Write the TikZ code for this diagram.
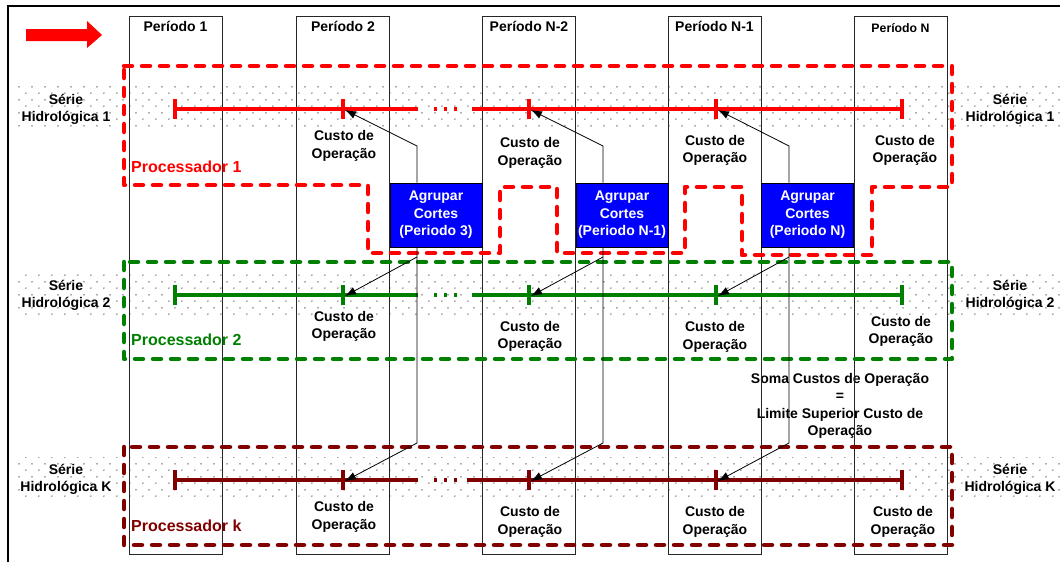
\documentclass[tikz,border=0pt]{standalone}
\usepackage{fontspec}
\setmainfont{Liberation Sans}
\usetikzlibrary{arrows.meta,patterns.meta}
\definecolor{pred}{RGB}{255,0,0}
\definecolor{pgreen}{RGB}{0,128,0}
\definecolor{pdark}{RGB}{128,0,0}
\definecolor{pblue}{RGB}{0,0,255}
\pgfdeclarepattern{name=sdots,type=uncolored,
  bottom left={\pgfpoint{0pt}{0pt}},top right={\pgfpoint{12.5pt}{13pt}},
  tile size={\pgfpoint{12.5pt}{13pt}},
  code={\pgfpathcircle{\pgfpoint{1pt}{1pt}}{0.75pt}\pgfpathcircle{\pgfpoint{7.25pt}{7.5pt}}{0.75pt}\pgfusepath{fill}}}
\begin{document}
\begin{tikzpicture}[x=1pt,y=-1pt,
  txt/.style={font=\bfseries\fontsize{14}{17.3}\selectfont, align=center, inner sep=0pt},
  ptxt/.style={font=\bfseries\fontsize{16}{19}\selectfont, anchor=west, inner sep=0pt},
  colbox/.style={draw=black!85, line width=0.8pt, minimum width=93pt, minimum height=538pt, inner sep=0pt},
  ser/.style={line width=3.2pt},
  proc/.style={line width=4.5pt, dash pattern=on 8pt off 10pt, line cap=round, line join=round},
  agbox/.style={draw=black, line width=0.8pt, fill=pblue, text=white, font=\bfseries\fontsize{14}{17.5}\selectfont, align=center, minimum width=92pt, minimum height=64pt, inner sep=0pt},
  arr/.style={draw=black, line width=0.8pt, -{Latex[length=11pt,width=8pt]}},
  band/.style={pattern=sdots, pattern color=black!75}
]
\useasboundingbox (0,0) rectangle (1060,562);
% outer frame
\draw[line width=2pt] (8,562) -- (8,6) -- (1060,6);
% red block arrow
\fill[pred] (26,29) -- (87,29) -- (87,21) -- (102,35) -- (87,48) -- (87,41) -- (26,41) -- cycle;
% dotted bands
\fill[band] (18,86) rectangle (1060,130);
\fill[band] (18,271) rectangle (1060,318);
\fill[band] (18,457) rectangle (1060,500);
% texts in the background
\node[txt] (sl1) at (66,109) {Série\\Hidrológica 1};
\node[txt] (sr1) at (1010,109) {Série\\Hidrológica 1};
\node[txt] (sl2) at (66,295.5) {Série\\Hidrológica 2};
\node[txt] (sr2) at (1010,295.5) {Série\\Hidrológica 2};
\node[txt] (slk) at (66,479.5) {Série\\Hidrológica K};
\node[txt] (srk) at (1010,479.5) {Série\\Hidrológica K};
\node[txt] (soma) at (840,406) {Soma Custos de Operação\\=\\Limite Superior Custo de\\Operação};
% period columns
\node[colbox] (c1) at (175.5,285) {};
\node[colbox] (c2) at (343,285) {};
\node[colbox] (c3) at (529,285) {};
\node[colbox] (c4) at (714.5,285) {};
\node[colbox] (c5) at (900.5,285) {};
\node[txt] (p1) at (175.5,26) {Período 1};
\node[txt] (p2) at (343,26) {Período 2};
\node[txt] (p3) at (529,26) {Período N-2};
\node[txt] (p4) at (714.5,26) {Período N-1};
\node[txt, font=\bfseries\fontsize{12.3}{15}\selectfont] (p5) at (900.5,28) {Período N};
% series lines
\foreach \n/\y/\c/\ge in {r/109/pred/472, g/295/pgreen/472, k/480/pdark/467} {
  \coordinate (\n1) at (175,\y);
  \coordinate (\n2) at (343,\y);
  \coordinate (\n3) at (529,\y);
  \coordinate (\n4) at (716,\y);
  \coordinate (\n5) at (902,\y);
  \coordinate (\n gl) at (418,\y);
  \coordinate (\n gr) at (\ge,\y);
  \draw[ser,\c] (\n1) -- (\n gl) (\n gr) -- (\n5);
  \foreach \i in {1,...,5} \draw[ser,\c] ([yshift=-10pt]\n\i) -- ([yshift=10pt]\n\i);
  \foreach \d in {434,444,454} \draw[ser,\c] (\d,\y) -- (\d+3,\y);
}
% cost labels
\node[txt] (cr2) at (344,146) {Custo de\\Operação};
\node[txt] (cr3) at (530,153) {Custo de\\Operação};
\node[txt] (cr4) at (715,150.5) {Custo de\\Operação};
\node[txt] (cr5) at (905,150.5) {Custo de\\Operação};
\node[txt] (cg2) at (344,326.5) {Custo de\\Operação};
\node[txt] (cg3) at (530,336.5) {Custo de\\Operação};
\node[txt] (cg4) at (715,337) {Custo de\\Operação};
\node[txt] (cg5) at (901,331.5) {Custo de\\Operação};
\node[txt] (ck2) at (344,517) {Custo de\\Operação};
\node[txt] (ck3) at (530,522) {Custo de\\Operação};
\node[txt] (ck4) at (715,522) {Custo de\\Operação};
\node[txt] (ck5) at (903,522) {Custo de\\Operação};
% processors
\draw[proc,pred] (124,66) -- (952,66) -- (952,187) -- (872,187) -- (872,255) -- (742,255) -- (742,187) -- (685,187) -- (685,253) -- (557,253) -- (557,187) -- (500,187) -- (500,253) -- (368,253) -- (368,185) -- (124,185) -- cycle;
\draw[proc,pgreen] (124,262) rectangle (952,359);
\draw[proc,pdark] (124,447) rectangle (952,545);
\node[ptxt, text=pred] (pr1) at (131,167) {Processador 1};
\node[ptxt, text=pgreen] (pr2) at (131,340) {Processador 2};
\node[ptxt, text=pdark] (prk) at (131,526) {Processador k};
% boxes
\node[agbox] (b1) at (436,215) {Agrupar\\Cortes\\(Periodo 3)};
\node[agbox] (b2) at (622,215) {Agrupar\\Cortes\\(Periodo N-1)};
\node[agbox] (b3) at (807.5,215) {Agrupar\\Cortes\\(Periodo N)};
% connectors
\foreach \b/\x/\t in {1/417/2, 2/603/3, 3/789/4} {
  \coordinate (u\b) at (\x,146);
  \coordinate (d\b) at (\x,443);
  \coordinate (s\b) at (\x,257);
  \draw[arr] (b\b.north -| u\b) -- (u\b) -- ([xshift=2pt,yshift=-1pt]r\t);
  \draw[arr] (b\b.south -| u\b) -- (d\b) -- ([xshift=2pt,yshift=-1pt]k\t);
  \draw[arr] (s\b) -- ([xshift=2pt,yshift=-1pt]g\t);
}
\end{tikzpicture}
\end{document}
